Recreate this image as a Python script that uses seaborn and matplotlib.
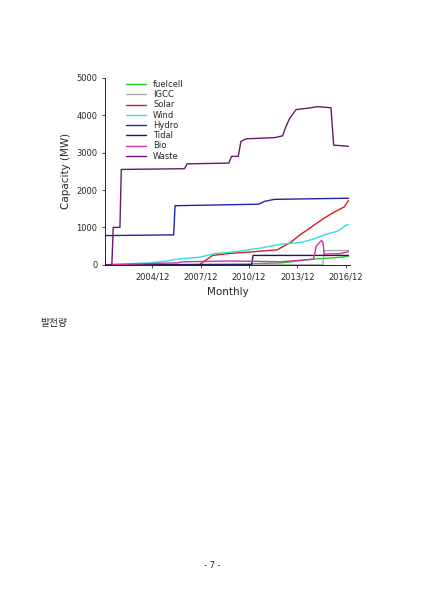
import numpy as np
import matplotlib
matplotlib.use('Agg')
import matplotlib.pyplot as plt
import seaborn as sns
import pandas as pd

sns.set_style('white')
plt.rcParams['font.family'] = ['DejaVu Sans', 'Noto Sans CJK KR']

# month index from 2002/01 (=0); knots
waste_m = [0, 5, 6, 11, 12, 59, 61, 92, 94, 99, 101, 105, 126, 132, 134, 137, 142, 153, 158, 168, 170, 181]
waste_v = [0, 0, 1000, 1000, 2550, 2570, 2700, 2720, 2900, 2900, 3300, 3370, 3400, 3450, 3650, 3900, 4150, 4200, 4230, 4200, 3200, 3170]
hydro_m = [0, 51, 52, 114, 119, 126, 181]
hydro_v = [780, 800, 1580, 1620, 1700, 1750, 1780]
solar_m = [0, 70, 80, 92, 111, 128, 138, 145, 153, 163, 170, 178, 181]
solar_v = [0, 0, 250, 300, 350, 400, 600, 800, 1000, 1250, 1400, 1550, 1720]
wind_m = [0, 33, 46, 53, 70, 82, 97, 116, 131, 146, 156, 163, 173, 179, 181]
wind_v = [0, 50, 100, 150, 200, 300, 350, 450, 550, 600, 700, 800, 900, 1050, 1080]
igcc_m = [0, 162, 163, 181]
igcc_v = [0, 0, 380, 380]
tidal_m = [0, 109, 110, 181]
tidal_v = [0, 0, 250, 250]
bio_m = [0, 53, 58, 94, 131, 155, 157, 161, 162, 163, 175, 181]
bio_v = [0, 50, 80, 100, 80, 150, 500, 650, 600, 280, 300, 350]
fuel_m = [0, 105, 131, 155, 175, 181]
fuel_v = [0, 20, 50, 150, 200, 230]

series = [
    ('fuelcell', fuel_m, fuel_v, '#22cc22'),
    ('IGCC', igcc_m, igcc_v, '#aaaaaa'),
    ('Solar', solar_m, solar_v, '#cc2222'),
    ('Wind', wind_m, wind_v, '#33dddd'),
    ('Hydro', hydro_m, hydro_v, '#2222aa'),
    ('Tidal', tidal_m, tidal_v, '#1a1a5a'),
    ('Bio', bio_m, bio_v, '#cc33aa'),
    ('Waste', waste_m, waste_v, '#6a1a6a'),
]

tick_pos = [35, 71, 107, 143, 179]
tick_lab = ['2004/12', '2007/12', '2010/12', '2013/12', '2016/12']

fig = plt.figure(figsize=(4.24, 5.99), dpi=100)
ax = fig.add_axes([0.248, 0.558, 0.577, 0.312])
for name, m, v, c in series:
    df = pd.DataFrame({'m': m, 'v': v})
    sns.lineplot(data=df, x='m', y='v', ax=ax, color=c, lw=1.0, label=name, estimator=None, sort=False)

ax.set_xlim(0, 182)
ax.set_ylim(0, 5000)
ax.set_xticks(tick_pos)
ax.set_xticklabels(tick_lab, fontsize=6)
ax.set_yticks([0, 1000, 2000, 3000, 4000, 5000])
ax.tick_params(axis='y', labelsize=6)
ax.tick_params(direction='out', length=2, width=0.6, bottom=True, left=True)
ax.set_xlabel('Monthly', fontsize=7.5)
ax.set_ylabel('Capacity (MW)', fontsize=7.5)
for s in ['top', 'right']:
    ax.spines[s].set_visible(False)
for s in ['left', 'bottom']:
    ax.spines[s].set_linewidth(0.6)
    ax.spines[s].set_color('black')
ax.legend(loc='upper left', bbox_to_anchor=(0.06, 1.02), frameon=False, fontsize=6,
          handlelength=2.5, labelspacing=0.15, borderpad=0.2)

fig.text(40 / 424, 1 - 323 / 599, '발전량', fontsize=7, family=['Noto Sans CJK KR'], va='center')
fig.text(0.5, 1 - 565 / 599, '- 7 -', fontsize=6, ha='center', va='center')

fig.savefig('out.png', dpi=100)
